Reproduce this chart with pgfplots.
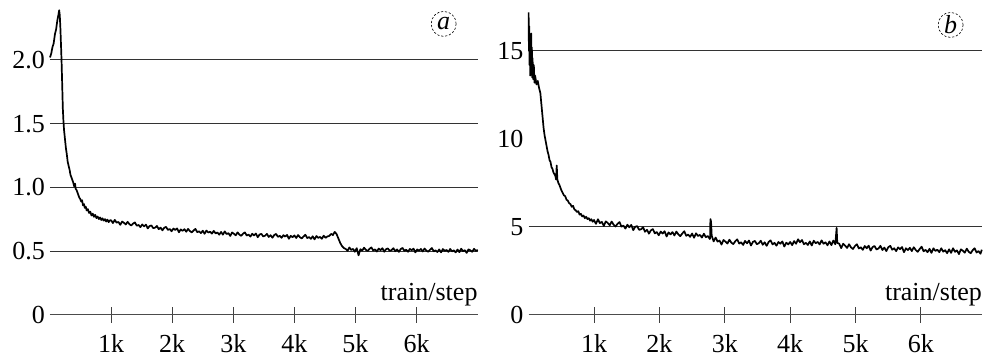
\documentclass[border=0pt]{standalone}
\usepackage{fontspec}
\setmainfont{Liberation Serif}
\usepackage{pgfplots}
\pgfplotsset{compat=1.18}
\tikzset{circ/.style={draw, circle, minimum size=25pt, inner sep=0pt, line width=0.6pt, dash pattern=on 2.2pt off 1.8pt}}
\begin{document}
\begin{tikzpicture}[x=1pt,y=1pt,font=\fontsize{26}{30}\selectfont]
\path[use as bounding box] (0,0) rectangle (986,356);
\pgfplotsset{
  base/.style={
    scale only axis, clip=false,
    axis x line=bottom, axis y line=left,
    y axis line style={draw=none},
    x axis line style={-, line width=1pt, color=black!70},
    xmin=0, ymin=0,
    xtick={1000,2000,3000,4000,5000,6000},
    xticklabels={1k,2k,3k,4k,5k,6k},
    xtick align=center,
    ytick align=inside,
    major tick length=16pt,
    x tick style={line width=1pt, color=black!75},
    y tick style={draw=none},
    grid style={line width=1pt, color=black!80},
    tick label style={font=\fontsize{26}{30}\selectfont},
    /pgf/number format/assume math mode=true,
    xticklabel style={anchor=north, inner sep=0pt, yshift=-11pt},
    yticklabel style={anchor=east, inner sep=0pt, xshift=-5pt},
  },
  dataline/.style={black, line width=1.7pt, line join=round},
}
% ---------------- panel (a)
\begin{axis}[base,
  at={(50pt,41pt)}, anchor=south west,
  width=427.7pt, height=312.4pt,
  xmax=7000, ymax=2.45,
  ytick={0,0.5,1,1.5,2},
  yticklabels={0,0.5,1.0,1.5,2.0},
  ymajorgrids=true,
]
\addplot[dataline] coordinates {
(0,2.02)(20,2.05)(40,2.1)(60,2.13)(80,2.2)(100,2.24)(120,2.31)(140,2.36)(150,2.39)(160,2.35)(170,2.25)(180,2.12)(190,1.98)(200,1.8)(210,1.62)(220,1.52)(230,1.45)(245,1.38)(260,1.31)(275,1.26)(290,1.2)(305,1.17)(320,1.14)(335,1.1)(350,1.08)(365,1.06)(380,1.04)(395,1.01)(410,1.03)(420,0.99)(435,0.98)(450,0.96)(465,0.94)(480,0.92)(495,0.91)(510,0.89)(525,0.90)(540,0.86)(555,0.87)(570,0.84)(585,0.85)(600,0.82)(620,0.83)(640,0.80)(660,0.81)(680,0.78)(700,0.795)(720,0.77)(740,0.785)(760,0.76)(780,0.772)(800,0.752)(820,0.765)(840,0.745)(860,0.758)(880,0.74)(900,0.752)(920,0.733)(940,0.748)(960,0.728)(980,0.742)
(1000,0.743)(1030,0.721)(1060,0.746)(1090,0.724)(1120,0.730)(1150,0.707)(1180,0.733)(1210,0.723)(1240,0.710)(1270,0.731)(1300,0.712)(1330,0.702)(1360,0.717)(1390,0.726)(1420,0.700)(1450,0.706)(1480,0.689)(1510,0.710)(1540,0.695)(1570,0.709)(1600,0.679)(1630,0.698)(1660,0.702)(1690,0.681)(1720,0.685)(1750,0.698)(1780,0.673)(1810,0.685)(1840,0.664)(1870,0.684)(1900,0.691)(1930,0.667)(1960,0.674)(1990,0.657)
(2020,0.678)(2050,0.667)(2080,0.679)(2110,0.649)(2140,0.671)(2170,0.660)(2200,0.673)(2230,0.653)(2260,0.675)(2290,0.658)(2320,0.648)(2350,0.663)(2380,0.675)(2410,0.649)(2440,0.656)(2470,0.642)(2500,0.661)(2530,0.637)(2560,0.662)(2590,0.647)(2620,0.653)(2650,0.638)(2680,0.660)(2710,0.640)(2740,0.647)(2770,0.630)
(2800,0.651)(2830,0.630)(2860,0.656)(2890,0.635)(2920,0.642)(2950,0.620)(2980,0.647)(3010,0.637)(3040,0.625)(3070,0.648)(3100,0.630)(3130,0.621)(3160,0.638)(3190,0.648)(3220,0.623)(3250,0.631)(3280,0.615)(3310,0.637)(3340,0.624)(3370,0.639)(3400,0.610)(3430,0.631)(3460,0.636)(3490,0.616)(3520,0.622)(3550,0.636)(3580,0.612)(3610,0.626)(3640,0.606)(3670,0.627)(3700,0.636)(3730,0.613)(3760,0.621)(3790,0.605)(3820,0.626)(3850,0.615)(3880,0.628)(3910,0.598)(3940,0.621)(3970,0.610)
(4000,0.624)(4030,0.604)(4060,0.627)(4090,0.610)(4120,0.601)(4150,0.616)(4180,0.629)(4210,0.603)(4240,0.611)(4270,0.597)(4300,0.617)(4330,0.593)(4360,0.619)(4390,0.605)(4420,0.612)(4450,0.598)(4480,0.622)(4510,0.605)(4540,0.616)(4570,0.620)(4600,0.636)(4630,0.627)(4660,0.652)(4690,0.635)(4720,0.600)(4750,0.565)(4780,0.540)(4810,0.525)(4840,0.518)
(4870,0.503)(4900,0.530)(4930,0.510)(4960,0.518)(4990,0.496)(5020,0.524)(5050,0.468)(5080,0.516)(5110,0.505)(5140,0.528)(5170,0.511)(5200,0.502)(5230,0.519)(5260,0.530)(5290,0.506)(5320,0.514)(5350,0.498)(5380,0.521)(5410,0.508)(5440,0.524)(5470,0.496)(5500,0.516)(5530,0.522)(5560,0.503)(5590,0.509)(5620,0.524)(5650,0.500)(5680,0.514)(5710,0.495)(5740,0.517)(5770,0.526)(5800,0.503)(5830,0.512)(5860,0.496)(5890,0.518)(5920,0.508)(5950,0.520)(5980,0.491)
(6010,0.514)(6040,0.504)(6070,0.518)(6100,0.498)(6130,0.521)(6160,0.505)(6190,0.496)(6220,0.512)(6250,0.525)(6280,0.499)(6310,0.507)(6340,0.494)(6370,0.514)(6400,0.491)(6430,0.517)(6460,0.503)(6490,0.510)(6520,0.495)(6550,0.518)(6580,0.499)(6610,0.507)(6640,0.491)(6670,0.513)(6700,0.493)(6730,0.520)(6760,0.500)(6790,0.508)(6820,0.487)(6850,0.515)(6880,0.507)(6910,0.496)(6940,0.519)(6970,0.502)(7000,0.511)
};
\node[anchor=base east, inner sep=0pt, yshift=14pt] at (rel axis cs:1,0) {train/step};
\node[circ] at (axis cs:6443,2.283) {\itshape a};
\end{axis}
% ---------------- panel (b)
\begin{axis}[base,
  at={(528.6pt,41pt)}, anchor=south west,
  width=453.4pt, height=308pt,
  xmax=6933, ymax=17.5,
  ytick={0,5,10,15},
  extra y ticks={5,15},
  extra y tick labels={},
  extra y tick style={grid=major},
]
\addplot[dataline] coordinates {
(0,17.2)(5,15.0)(10,16.4)(15,14.2)(20,15.8)(25,13.6)(30,15.5)(35,14.0)(40,16.0)(45,13.8)(50,15.2)(55,13.5)(60,14.6)(70,13.4)(80,14.2)(90,13.2)(100,13.6)(120,13.1)(140,13.3)(160,12.9)(180,12.6)(200,11.8)(215,11.2)(230,10.6)(245,10.2)(260,9.9)(275,9.6)(290,9.3)(305,9.1)(320,8.8)(335,8.7)(350,8.4)(365,8.3)(380,8.1)(395,8.0)(410,7.9)(420,7.7)(430,8.5)(440,7.7)(455,7.5)(470,7.4)(485,7.25)(500,7.1)(520,6.95)(540,6.8)(560,6.75)(580,6.55)(600,6.5)(620,6.35)(640,6.3)(660,6.15)(680,6.2)(700,6.0)(720,5.95)(740,5.85)(760,5.9)(780,5.7)(800,5.75)(820,5.6)(840,5.65)(860,5.5)(880,5.58)(900,5.45)(920,5.5)(940,5.36)(960,5.44)(980,5.3)
(1000,5.40)(1030,5.18)(1060,5.44)(1090,5.22)(1120,5.29)(1150,5.06)(1180,5.32)(1210,5.23)(1240,5.10)(1270,5.31)(1300,5.13)(1330,5.03)(1360,5.18)(1390,5.28)(1420,5.02)(1450,5.08)(1480,4.91)(1510,5.13)(1540,4.98)(1570,5.12)(1600,4.82)(1630,5.01)(1660,5.05)(1690,4.84)(1720,4.87)(1750,4.99)(1780,4.73)(1810,4.84)(1840,4.62)(1870,4.81)(1900,4.88)(1930,4.64)(1960,4.71)(1990,4.53)
(2020,4.74)(2050,4.63)(2080,4.76)(2110,4.46)(2140,4.69)(2170,4.58)(2200,4.71)(2230,4.52)(2260,4.74)(2290,4.58)(2320,4.48)(2350,4.63)(2380,4.76)(2410,4.50)(2440,4.57)(2470,4.44)(2500,4.63)(2530,4.39)(2560,4.64)(2590,4.49)(2620,4.55)(2650,4.40)(2680,4.62)(2710,4.42)(2740,4.49)(2770,4.32)(2775,4.35)(2780,5.45)(2790,5.3)(2800,4.5)
(2830,4.18)(2860,4.40)(2890,4.17)(2920,4.23)(2950,4.00)(2980,4.26)(3010,4.17)(3040,4.06)(3070,4.28)(3100,4.11)(3130,4.03)(3160,4.19)(3190,4.30)(3220,4.06)(3250,4.13)(3280,3.98)(3310,4.21)(3340,4.07)(3370,4.23)(3400,3.95)(3430,4.15)(3460,4.21)(3490,4.02)(3520,4.08)(3550,4.22)(3580,3.99)(3610,4.13)(3640,3.93)(3670,4.15)(3700,4.24)(3730,4.01)(3760,4.10)(3790,3.94)(3820,4.15)(3850,4.05)(3880,4.18)(3910,3.89)(3940,4.11)(3970,4.01)
(4000,4.15)(4030,3.97)(4060,4.20)(4090,4.05)(4120,4.30)(4150,4.13)(4180,4.26)(4210,4.02)(4240,4.10)(4270,3.98)(4300,4.18)(4330,3.95)(4360,4.22)(4390,4.08)(4420,4.15)(4450,4.01)(4480,4.24)(4510,4.05)(4540,4.13)(4570,3.96)(4600,4.18)(4630,3.97)(4660,4.23)(4690,4.02)(4710,4.95)(4720,4.10)(4750,4.05)(4780,3.80)(4810,4.05)(4840,3.94)(4870,3.81)(4900,4.02)(4930,3.84)(4960,3.75)(4990,3.92)
(5020,4.02)(5050,3.78)(5080,3.85)(5110,3.70)(5140,3.92)(5170,3.79)(5200,3.94)(5230,3.66)(5260,3.86)(5290,3.92)(5320,3.72)(5350,3.78)(5380,3.93)(5410,3.69)(5440,3.83)(5470,3.63)(5500,3.85)(5530,3.93)(5560,3.71)(5590,3.79)(5620,3.63)(5650,3.84)(5680,3.74)(5710,3.86)(5740,3.57)(5770,3.79)(5800,3.69)(5830,3.82)(5860,3.63)(5890,3.85)(5920,3.69)(5950,3.59)(5980,3.75)
(6010,3.88)(6040,3.62)(6070,3.70)(6100,3.57)(6130,3.76)(6160,3.53)(6190,3.79)(6220,3.64)(6250,3.71)(6280,3.57)(6310,3.79)(6340,3.60)(6370,3.68)(6400,3.51)(6430,3.73)(6460,3.53)(6490,3.79)(6520,3.59)(6550,3.67)(6580,3.46)(6610,3.73)(6640,3.65)(6670,3.54)(6700,3.77)(6730,3.59)(6760,3.51)(6790,3.68)(6820,3.79)(6850,3.55)(6880,3.63)(6910,3.48)(6930,3.71)
};
\node[anchor=base east, inner sep=0pt, yshift=14pt] at (rel axis cs:1,0) {train/step};
\node[circ] at (axis cs:6453,16.48) {\itshape b};
\end{axis}
\end{tikzpicture}
\end{document}
